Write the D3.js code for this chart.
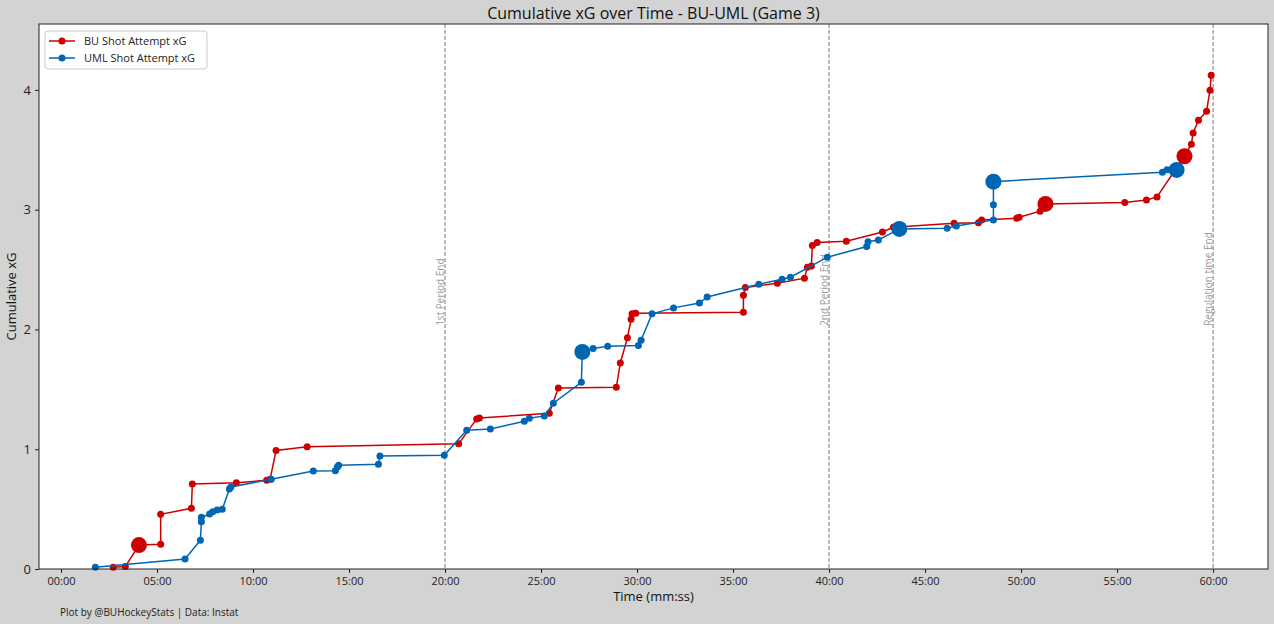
<!DOCTYPE html>
<html>
<head>
<meta charset="utf-8">
<script src="https://cdn.jsdelivr.net/npm/d3@7"></script>
<style>
  body { margin: 0; background: #d3d3d3; }
  svg { display: block; font-family: "Open Sans", "Noto Sans", sans-serif; }
</style>
</head>
<body>
<div id="chart"></div>
<script>
// données : temps (minutes) et xG cumulé
const buTime = [2.72, 3.35, 4.06, 5.19, 5.19, 6.79, 6.84, 9.13, 10.71, 10.89, 11.2, 12.82, 20.71,
  21.65, 21.79, 25.43, 25.9, 28.92, 29.13, 29.5, 29.69, 29.74, 29.93, 35.54, 35.54, 35.64, 37.31,
  38.72, 38.87, 39.08, 39.13, 39.38, 40.9, 42.78, 43.35, 46.51, 47.78, 47.95, 49.77, 49.9, 50.99,
  51.27, 55.4, 56.53, 57.08, 58.51, 58.87, 58.96, 59.24, 59.66, 59.84, 59.9];
const buXg = [0.014, 0.02, 0.2, 0.206, 0.457, 0.507, 0.71, 0.72, 0.74, 0.75, 0.99, 1.02, 1.045,
  1.253, 1.261, 1.30, 1.511, 1.517, 1.72, 1.93, 2.085, 2.13, 2.135, 2.144, 2.285, 2.35, 2.386,
  2.428, 2.52, 2.53, 2.70, 2.725, 2.737, 2.814, 2.853, 2.887, 2.89, 2.914, 2.929, 2.937, 2.987,
  3.048, 3.059, 3.081, 3.106, 3.446, 3.547, 3.641, 3.747, 3.822, 3.997, 4.123];
const buGoals = [4.06, 51.27, 58.51];

const umlTime = [1.79, 6.46, 7.26, 7.31, 7.31, 7.74, 7.9, 8.13, 8.4, 8.77, 8.85, 10.95, 13.14,
  14.29, 14.39, 14.46, 16.53, 16.61, 19.96, 21.13, 22.36, 24.13, 24.39, 25.17, 25.64, 27.1, 27.15,
  27.71, 28.47, 30.07, 30.21, 30.78, 31.9, 33.25, 33.65, 36.34, 37.55, 37.99, 39.91, 41.96, 42.03,
  42.57, 43.66, 46.15, 46.63, 48.56, 48.56, 48.56, 57.36, 57.6, 58.1];
const umlXg = [0.014, 0.084, 0.24, 0.395, 0.432, 0.459, 0.478, 0.493, 0.499, 0.668, 0.685, 0.75,
  0.818, 0.821, 0.852, 0.866, 0.874, 0.944, 0.949, 1.158, 1.169, 1.233, 1.258, 1.278, 1.384, 1.559,
  1.812, 1.84, 1.86, 1.865, 1.91, 2.13, 2.18, 2.221, 2.271, 2.377, 2.419, 2.436, 2.603, 2.692,
  2.733, 2.747, 2.839, 2.845, 2.864, 2.914, 3.04, 3.234, 3.313, 3.334, 3.332];
const umlGoals = [27.15, 43.66, 48.56, 58.1];

const periodEnds = [20, 40, 60];
const periodLabels = ["1st Period End", "2nd Period End", "Regulation time End"];
const xTicks = [0, 5, 10, 15, 20, 25, 30, 35, 40, 45, 50, 55, 60];
const yTicks = [0, 1, 2, 3, 4];

const W = 1274, H = 624;
const margin = { top: 24, right: 6, bottom: 55, left: 39 };
const BU_RED = "#cc0000", UML_BLUE = "#0066b2";

const svg = d3.select("#chart").append("svg")
    .attr("width", W).attr("height", H);

svg.append("rect").attr("width", W).attr("height", H).attr("fill", "#d3d3d3");

const x = d3.scaleLinear().domain([-1.146, 62.86]).range([margin.left, W - margin.right]);
const y = d3.scaleLinear().domain([0, 4.55]).range([H - margin.bottom, margin.top]);

// zone du graphique
svg.append("rect")
    .attr("x", margin.left).attr("y", margin.top)
    .attr("width", W - margin.left - margin.right)
    .attr("height", H - margin.top - margin.bottom)
    .attr("fill", "white");

// fins de période
const per = svg.append("g");
per.selectAll("line").data(periodEnds).enter().append("line")
    .attr("x1", d => x(d)).attr("x2", d => x(d))
    .attr("y1", margin.top).attr("y2", H - margin.bottom)
    .attr("stroke", "#777").attr("stroke-width", 1).attr("stroke-dasharray", "4,2");
per.selectAll("text").data(periodEnds).enter().append("text")
    .attr("transform", d => `translate(${x(d) - 1},${y(2.03)}) rotate(-90)`)
    .attr("fill", "#999").style("font-size", "10px")
    .text((d, i) => periodLabels[i]);

// séries
const series = [
  { time: buTime, xg: buXg, goals: buGoals, color: BU_RED, name: "BU Shot Attempt xG" },
  { time: umlTime, xg: umlXg, goals: umlGoals, color: UML_BLUE, name: "UML Shot Attempt xG" }
];

series.forEach(s => {
    const pts = s.time.map((t, i) => ({ t: t, v: s.xg[i] }));
    const line = d3.line().x(d => x(d.t)).y(d => y(d.v));
    svg.append("path").datum(pts)
        .attr("d", line).attr("fill", "none")
        .attr("stroke", s.color).attr("stroke-width", 1.5);
    svg.append("g").selectAll("circle").data(pts).enter().append("circle")
        .attr("cx", d => x(d.t)).attr("cy", d => y(d.v))
        .attr("r", (d, i) => {
            // but = gros marqueur (dernier point à ce temps)
            const isGoal = s.goals.includes(d.t) && (i === pts.length - 1 || pts[i + 1].t !== d.t);
            return isGoal ? 8 : 3.5;
        })
        .attr("fill", s.color);
});

// cadre
svg.append("rect")
    .attr("x", margin.left).attr("y", margin.top)
    .attr("width", W - margin.left - margin.right)
    .attr("height", H - margin.top - margin.bottom)
    .attr("fill", "none").attr("stroke", "#222").attr("stroke-width", 1);

// axes
const fmt = d => String(d).padStart(2, "0") + ":00";
const xAxis = svg.append("g")
    .attr("transform", `translate(0,${H - margin.bottom})`)
    .call(d3.axisBottom(x).tickValues(xTicks).tickFormat(fmt).tickSize(4).tickPadding(4));
const yAxis = svg.append("g")
    .attr("transform", `translate(${margin.left},0)`)
    .call(d3.axisLeft(y).tickValues(yTicks).tickFormat(d3.format("d")).tickSize(4).tickPadding(4));
[xAxis, yAxis].forEach(a => {
    a.select(".domain").remove();
    a.selectAll("text").style("font-size", "11px").attr("fill", "#222")
        .style("font-family", "'Open Sans', sans-serif");
    a.selectAll("line").attr("stroke", "#222");
});
yAxis.selectAll("text").style("font-size", "13px");

// titres
svg.append("text").attr("x", (margin.left + W - margin.right) / 2).attr("y", 19)
    .attr("text-anchor", "middle").style("font-size", "16px").attr("fill", "#111")
    .text("Cumulative xG over Time - BU-UML (Game 3)");
svg.append("text").attr("x", (margin.left + W - margin.right) / 2).attr("y", 601)
    .attr("text-anchor", "middle").style("font-size", "13px").attr("fill", "#111")
    .text("Time (mm:ss)");
svg.append("text")
    .attr("transform", `translate(16,${(margin.top + H - margin.bottom) / 2}) rotate(-90)`)
    .attr("text-anchor", "middle").style("font-size", "13px").attr("fill", "#111")
    .text("Cumulative xG");
svg.append("text").attr("x", 60).attr("y", 616)
    .style("font-size", "10px").attr("fill", "#222")
    .text("Plot by @BUHockeyStats | Data: Instat");

// légende
const lg = svg.append("g").attr("transform", "translate(45,31)");
lg.append("rect").attr("width", 162).attr("height", 38).attr("rx", 3)
    .attr("fill", "white").attr("stroke", "#ccc");
series.forEach((s, i) => {
    const row = lg.append("g").attr("transform", `translate(0,${10 + i * 17})`);
    row.append("line").attr("x1", 4).attr("x2", 30).attr("stroke", s.color).attr("stroke-width", 1.5);
    row.append("circle").attr("cx", 17).attr("r", 3.5).attr("fill", s.color);
    row.append("text").attr("x", 39).attr("y", 4).style("font-size", "11px").attr("fill", "#222")
        .text(s.name);
});
</script>
</body>
</html>
